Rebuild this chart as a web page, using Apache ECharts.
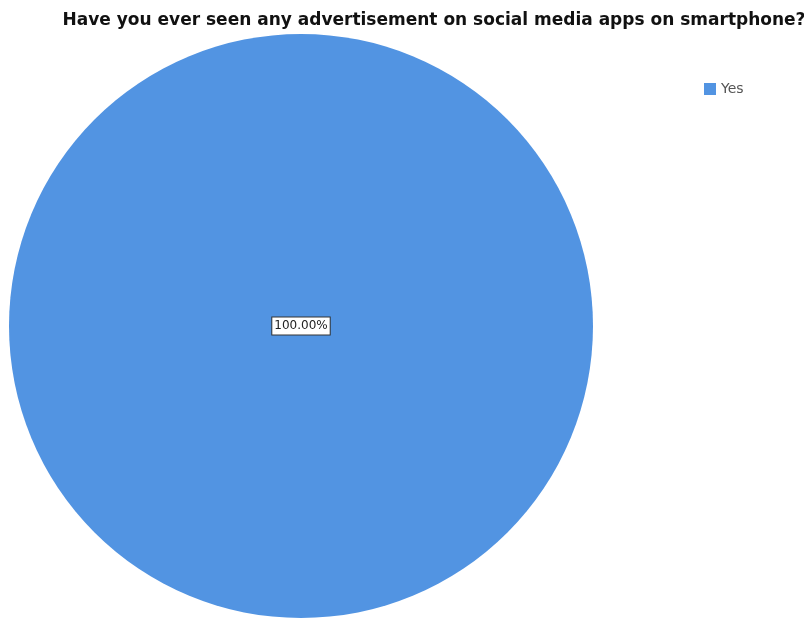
<!DOCTYPE html>
<html>
<head>
<meta charset="utf-8">
<script src="https://cdn.jsdelivr.net/npm/echarts@6/dist/echarts.min.js"></script>
<style>
    html, body { margin: 0; padding: 0; background: #fff; }
    #chart { width: 804px; height: 618px; }
</style>
</head>
<body>
<div id="chart"></div>
<script>
    // data
    const categories = ['Yes'];
    const values = [100];
    const percentLabels = ['100.00%'];

    const chart = echarts.init(document.getElementById('chart'));
    const option = {
        animation: false,
        title: {
            text: 'Have you ever seen any advertisement on social media apps on smartphone?',
            left: 429,
            top: 7,
            textAlign: 'center',
            textStyle: {
                fontFamily: 'DejaVu Sans',
                fontWeight: 'bold',
                fontSize: 17,
                color: '#111'
            }
        },
        legend: {
            data: categories,
            orient: 'vertical',
            left: 699,
            top: 77,
            itemWidth: 12,
            itemHeight: 12,
            itemGap: 6,
            icon: 'rect',
            textStyle: {
                fontFamily: 'DejaVu Sans',
                fontSize: 14,
                color: '#555'
            }
        },
        series: [
            {
                type: 'pie',
                center: [301, 326],
                radius: [0, 292],
                startAngle: 90,
                silent: true,
                data: categories.map(function (c, i) {
                    return { name: c, value: values[i] };
                }),
                itemStyle: {
                    color: '#5294e2',
                    borderWidth: 0
                },
                label: {
                    show: true,
                    position: 'center',
                    formatter: function (p) {
                        return percentLabels[p.dataIndex];
                    },
                    fontFamily: 'DejaVu Sans',
                    fontSize: 12,
                    color: '#222',
                    backgroundColor: '#fff',
                    borderColor: '#333',
                    borderWidth: 1,
                    padding: [3, 2, 2, 2]
                },
                labelLine: { show: false }
            }
        ]
    };
    chart.setOption(option);
</script>
</body>
</html>
